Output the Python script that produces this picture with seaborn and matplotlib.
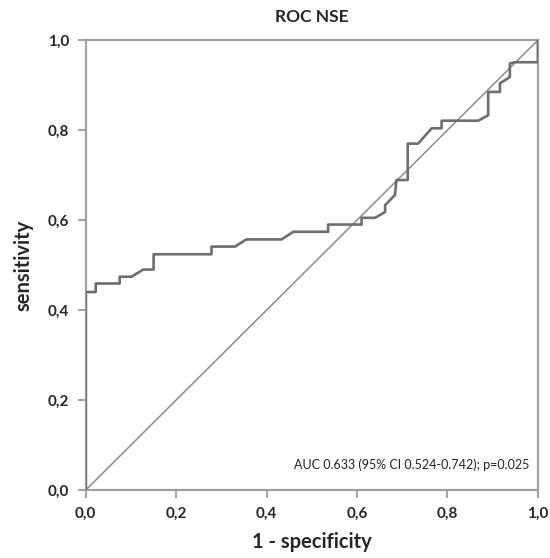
import matplotlib
matplotlib.use("Agg")
import matplotlib.pyplot as plt
from matplotlib.ticker import FuncFormatter
import pandas as pd
import seaborn as sns

# ROC curve points (1 - specificity, sensitivity)
fpr = [0, 0, 0.022, 0.022, 0.075, 0.075, 0.101, 0.127, 0.150, 0.150, 0.278, 0.278,
       0.330, 0.355, 0.433, 0.459, 0.536, 0.536, 0.610, 0.610, 0.640, 0.662, 0.662,
       0.684, 0.687, 0.712, 0.712, 0.735, 0.765, 0.787, 0.787, 0.868, 0.890, 0.890,
       0.916, 0.916, 0.938, 0.938, 0.949, 1.0, 1.0]
tpr = [0, 0.440, 0.440, 0.459, 0.459, 0.474, 0.474, 0.490, 0.490, 0.524, 0.524, 0.541,
       0.541, 0.557, 0.557, 0.574, 0.574, 0.590, 0.590, 0.605, 0.605, 0.618, 0.633,
       0.656, 0.689, 0.689, 0.770, 0.770, 0.804, 0.804, 0.821, 0.821, 0.833, 0.885,
       0.885, 0.904, 0.918, 0.948, 0.951, 0.951, 1.0]
ticks = [0.0, 0.2, 0.4, 0.6, 0.8, 1.0]
title = "ROC NSE"
annotation = "AUC 0.633 (95% CI 0.524-0.742); p=0.025"

sns.set_theme(style="white")
plt.rcParams['font.family'] = ['Lato', 'DejaVu Sans']

roc = pd.DataFrame({'fpr': fpr, 'tpr': tpr})

fig = plt.figure(figsize=(5.5, 5.58), dpi=100)
ax = fig.add_axes([0.156, 0.122, 0.822, 0.806])

# reference line
ax.plot([0, 1], [0, 1], color='#8c8c8c', lw=1.1, zorder=2)

# ROC curve
sns.lineplot(data=roc, x='fpr', y='tpr', sort=False, estimator=None,
             color='#6e6e6e', lw=1.9, ax=ax, zorder=3)

ax.set_xlim(0, 1)
ax.set_ylim(0, 1)
ax.set_xticks(ticks)
ax.set_yticks(ticks)
comma = FuncFormatter(lambda v, p: '{:.1f}'.format(v).replace('.', ','))
ax.xaxis.set_major_formatter(comma)
ax.yaxis.set_major_formatter(comma)

for s in ax.spines.values():
    s.set_visible(True)
    s.set_color('#a0a0a0')
    s.set_linewidth(1.6)

ax.tick_params(axis='both', direction='out', length=6, width=1.4, color='#a0a0a0',
               labelsize=11, pad=6, bottom=True, left=True)
for lab in ax.get_xticklabels() + ax.get_yticklabels():
    lab.set_fontweight('bold')

ax.set_xlabel('1 - specificity', fontsize=14.5, fontweight='bold', labelpad=8)
ax.set_ylabel('sensitivity', fontsize=14.5, fontweight='bold', labelpad=10)
ax.set_title(title, fontsize=12.5, fontweight='bold', pad=13)

ax.text(0.982, 0.056, annotation, ha='right', va='center', fontsize=9, color='#222222')

fig.savefig('out.png', dpi=100)
